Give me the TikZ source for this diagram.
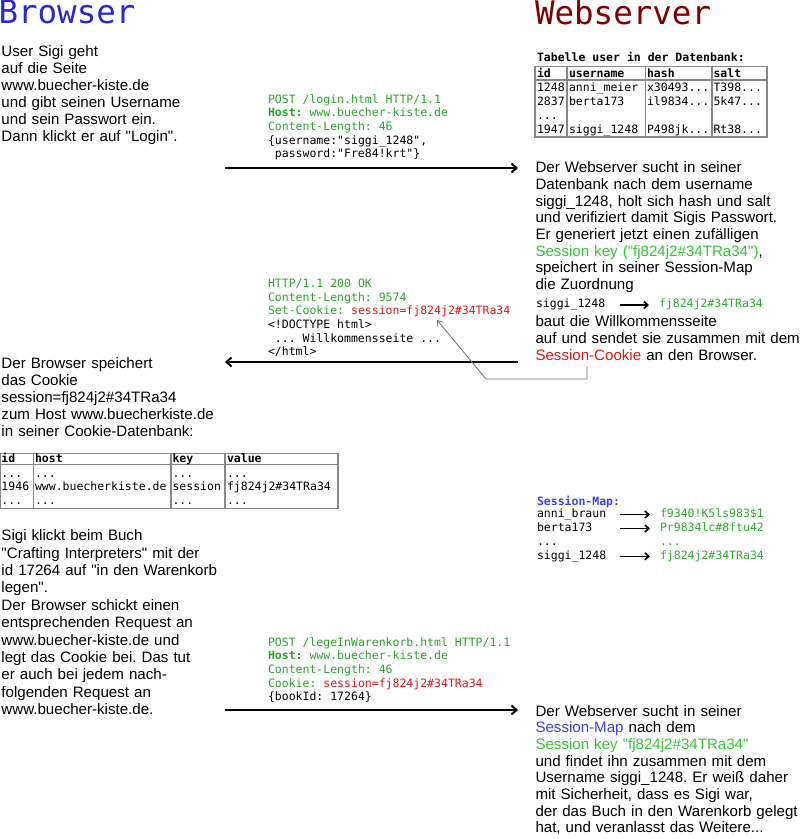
\documentclass[tikz,border=0pt]{standalone}
\usepackage{fontspec}
\setmainfont{Liberation Sans}[Ligatures=TeXOff]
\setmonofont{DejaVu Sans Mono}
\usetikzlibrary{arrows.meta}
\definecolor{mgreen}{RGB}{40,165,40}
\definecolor{sgreen}{RGB}{50,200,50}
\definecolor{hred}{RGB}{230,20,20}
\definecolor{mblue}{RGB}{55,65,240}
\definecolor{tblue}{RGB}{40,40,210}
\definecolor{tred}{RGB}{128,0,0}
\definecolor{tgray}{RGB}{135,135,135}
\definecolor{pgray}{RGB}{110,110,110}
\newcommand\mymono[1]{\fontsize{11.5}{#1}\selectfont\ttfamily}
\newcommand\msp{\spaceskip=0.602em\relax\xspaceskip=0.602em\relax}
\begin{document}
\frenchspacing
\begin{tikzpicture}[x=1pt,y=-1pt,
  every node/.style={inner sep=0pt,outer sep=0pt},
  xbody/.style={anchor=base west,text width=300pt,align=left,font=\fontsize{15.1}{17}\selectfont},
  xbodyr/.style={anchor=base west,text width=300pt,align=left,font=\fontsize{15.1}{16.7}\selectfont},
  xcode/.style={anchor=base west,text width=330pt,align=left,font=\mymono{13.7}},
  xcell/.style={anchor=base west,text width=140pt,align=left,font=\mymono{13.9}},
  xline/.style={anchor=base west,font=\mymono{13.9}},
  xhead/.style={anchor=base west,font=\mymono{13.9}\bfseries},
  xtitle/.style={anchor=base west,font=\fontsize{32.5}{38}\selectfont\ttfamily},
  xflow/.style={line width=2pt,-{Straight Barb[length=5pt,width=9pt]}},
  xmap/.style={line width=1.6pt,-{Straight Barb[length=4pt,width=7pt]}},
  xrule/.style={draw=tgray,line width=1.3pt},
  xpointer/.style={draw=pgray,line width=0.8pt,-{Straight Barb[length=5pt,width=7pt]}}
]
\path[use as bounding box] (0,0) rectangle (800,839);

% titles
\node[xtitle,text=tblue] (tbrowser) at (-1.5,23.5) {Browser};
\node[xtitle,text=tred] (tserver) at (535,24) {Webserver};

% step 1: browser text
\node[xbody] (l1) at (1.5,56.7) {User Sigi geht\\auf die Seite\\www.buecher-kiste.de\\und gibt seinen Username\\und sein Passwort ein.\\Dann klickt er auf "Login".};

% user table
\node[xhead] (ucap) at (537,61) {Tabelle user in der Datenbank:};
\draw[xrule] (535,66.5) rectangle (767,137);
\draw[xrule] (535,80) -- (767,80);
\draw[xrule] (567,66.5) -- (567,137);
\draw[xrule] (645.5,66.5) -- (645.5,137);
\draw[xrule] (712,66.5) -- (712,137);
\node[xhead] (uh1) at (537,77.5) {id};
\node[xhead] (uh2) at (569,77.5) {username};
\node[xhead] (uh3) at (647,77.5) {hash};
\node[xhead] (uh4) at (713.5,77.5) {salt};
\node[xcell] (uc1) at (537,91.7) {1248\\2837\\...\\1947};
\node[xcell] (uc2) at (569,91.7) {anni\_meier\\berta173\\\mbox{}\\siggi\_1248};
\node[xcell] (uc3) at (647,91.7) {x30493...\\il9834...\\\mbox{}\\P498jk...};
\node[xcell] (uc4) at (713.5,91.7) {T398...\\5k47...\\\mbox{}\\Rt38...};

% request 1
\node[xcode] (req1) at (268,103) {\msp{\color{mgreen}POST /login.html HTTP/1.1}\\{\color{mgreen}\textbf{Host:} www.buecher-kiste.de}\\{\color{mgreen}Content-Length: 46}\\\{username:"siggi\_1248",\\~password:"Fre84!krt"\}};
\coordinate (a1s) at (225,168);
\coordinate (a1e) at (518,168);
\draw[xflow] (a1s) -- (a1e);

% server text 1
\node[xbodyr] (r1a) at (535.5,172.7) {Der Webserver sucht in seiner\\Datenbank nach dem username\\siggi\_1248, holt sich hash und salt\\und verifiziert damit Sigis Passwort.\\Er generiert jetzt einen zuf\"alligen\\{\color{sgreen}Session key ("fj824j2\#34TRa34")},\\speichert in seiner Session-Map\\die Zuordnung};
\node[xline] (mk0) at (536,307.5) {siggi\_1248};
\node[xline,text=sgreen!85!black] (mv0) at (659,307.5) {fj824j2\#34TRa34};
\coordinate (m0s) at (620,305);
\coordinate (m0e) at (649,305);
\draw[xmap] (m0s) -- (m0e);
\node[xbodyr] (r1b) at (535.5,326.7) {baut die Willkommensseite\\auf und sendet sie zusammen mit dem\\{\color{hred}Session-Cookie} an den Browser.};

% response
\node[xcode] (resp) at (268,287.3) {\msp{\color{mgreen}HTTP/1.1 200 OK}\\{\color{mgreen}Content-Length: 9574}\\{\color{mgreen}Set-Cookie: }{\color{hred}session=fj824j2\#34TRa34}\\<!DOCTYPE html>\\~... Willkommensseite ...\\</html>};
\coordinate (a2s) at (518,362);
\coordinate (a2e) at (225,362);
\draw[xflow] (a2s) -- (a2e);

% pointer from Session-Cookie to Set-Cookie value
\coordinate (p0) at (587,366);
\coordinate (p1) at (587,379);
\coordinate (p2) at (486,379);
\coordinate (p3) at (437,320);
\draw[xpointer] (p0) -- (p1) -- (p2) -- (p3);

% browser text 2
\node[xbody] (l2) at (1.5,368.4) {Der Browser speichert\\das Cookie\\session=fj824j2\#34TRa34\\zum Host www.buecherkiste.de\\in seiner Cookie-Datenbank:};

% cookie table
\draw[xrule] (0.7,453.3) rectangle (338,508.3);
\draw[xrule] (0.7,464.5) -- (338,464.5);
\draw[xrule] (33.5,453.3) -- (33.5,508.3);
\draw[xrule] (171,453.3) -- (171,508.3);
\draw[xrule] (225,453.3) -- (225,508.3);
\node[xhead] (ch1) at (1.5,462.5) {id};
\node[xhead] (ch2) at (35,462.5) {host};
\node[xhead] (ch3) at (172.5,462.5) {key};
\node[xhead] (ch4) at (227,462.5) {value};
\node[xcell] (cc1) at (1.5,477) {...\\1946\\...};
\node[xcell] (cc2) at (35,477) {...\\www.buecherkiste.de\\...};
\node[xcell] (cc3) at (172.5,477) {...\\session\\...};
\node[xcell] (cc4) at (227,477) {...\\fj824j2\#34TRa34\\...};

% session map
\node[xhead,text=mblue] (smcap) at (537,505.5) {Session-Map:};
\node[xcell] (smk) at (537,517.5) {anni\_braun\\berta173\\...\\siggi\_1248};
\node[xcell,text=sgreen!85!black] (smv) at (660,517.5) {f9340!K5ls983\$1\\Pr9834lc\#8ftu42\\...\\fj824j2\#34TRa34};
\coordinate (s1s) at (620,514.5); \coordinate (s1e) at (650,514.5);
\coordinate (s2s) at (620,528.5); \coordinate (s2e) at (650,528.5);
\coordinate (s4s) at (620,556.3); \coordinate (s4e) at (650,556.3);
\draw[xmap] (s1s) -- (s1e);
\draw[xmap] (s2s) -- (s2e);
\draw[xmap] (s4s) -- (s4e);

% browser text 3
\node[xbody,font=\fontsize{15.1}{17.4}\selectfont] (l3) at (1.5,540.7) {Sigi klickt beim Buch\\"Crafting Interpreters" mit der\\id 17264 auf "in den Warenkorb\\legen".\\Der Browser schickt einen\\entsprechenden Request an\\www.buecher-kiste.de und\\legt das Cookie bei. Das tut\\er auch bei jedem nach-\\folgenden Request an\\www.buecher-kiste.de.};

% request 3
\node[xcode] (req3) at (268,646) {\msp{\color{mgreen}POST /legeInWarenkorb.html HTTP/1.1}\\{\color{mgreen}\textbf{Host:} www.buecher-kiste.de}\\{\color{mgreen}Content-Length: 46}\\{\color{mgreen}Cookie: }{\color{hred}session=fj824j2\#34TRa34}\\\{bookId: 17264\}};
\coordinate (a3s) at (225,710);
\coordinate (a3e) at (518,710);
\draw[xflow] (a3s) -- (a3e);

% server text 3
\node[xbodyr] (r3) at (535.5,716) {Der Webserver sucht in seiner\\{\color{mblue}Session-Map} nach dem\\{\color{sgreen}Session key "fj824j2\#34TRa34"}\\und findet ihn zusammen mit dem\\Username siggi\_1248. Er wei\ss{} daher\\mit Sicherheit, dass es Sigi war,\\der das Buch in den Warenkorb gelegt\\hat, und veranlasst das Weitere...};
\end{tikzpicture}
\end{document}
